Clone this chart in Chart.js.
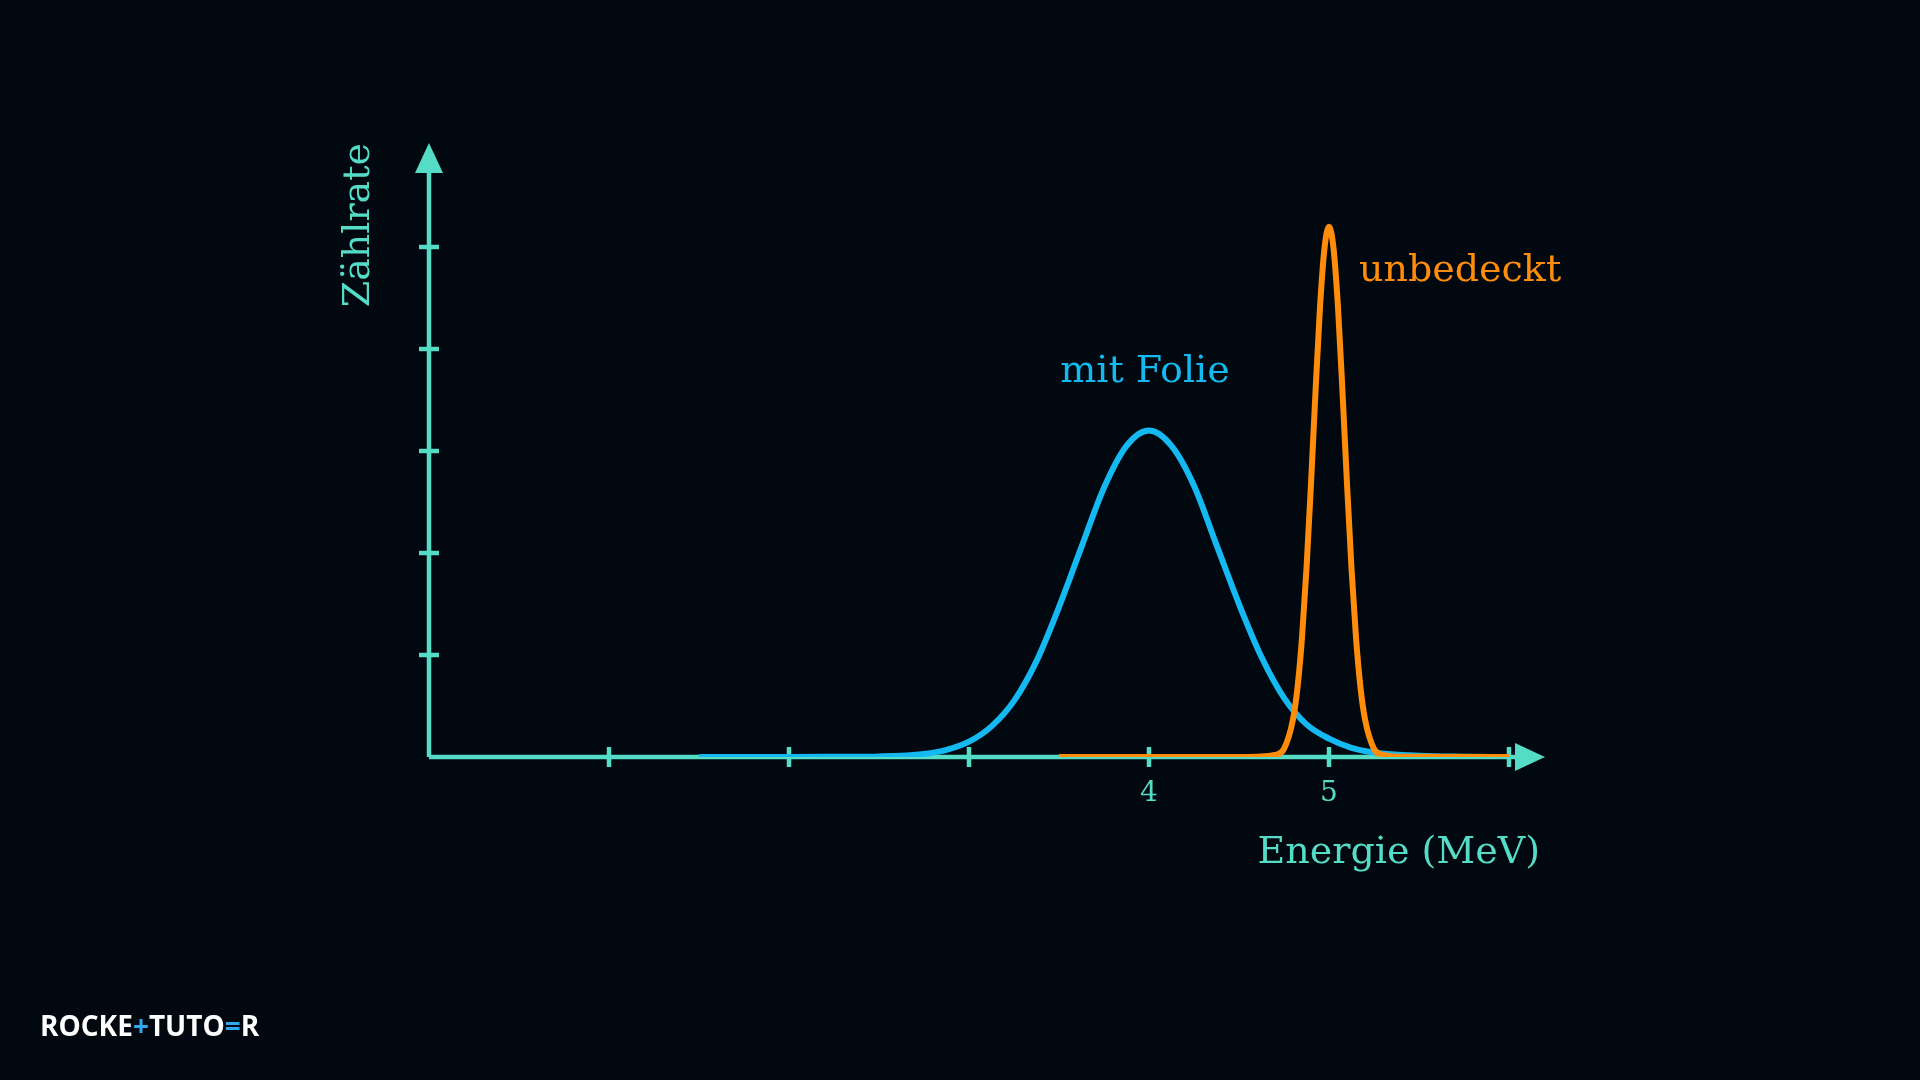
<!DOCTYPE html>
<html>
<head>
<meta charset="utf-8">
<script src="https://cdn.jsdelivr.net/npm/chart.js@4"></script>
<style>
  html, body { margin: 0; padding: 0; background: #02080f; }
  canvas { display: block; }
</style>
</head>
<body>
<canvas id="c" width="1920" height="1080"></canvas>
<script>
// Daten: Energie (MeV) und Zählrate
const folieX = [1.5, 2, 2.25, 2.5, 2.75, 2.875, 3, 3.125, 3.25, 3.375, 3.5, 3.625, 3.75, 3.875, 4, 4.125, 4.25, 4.375, 4.5, 4.625, 4.75, 4.875, 5, 5.125, 5.25, 5.5, 5.75, 6];
const folieY = [0, 0, 0.002, 0.006, 0.03, 0.07, 0.15, 0.3, 0.55, 0.94, 1.47, 2.06, 2.64, 3.05, 3.2, 3.05, 2.66, 2.08, 1.5, 0.98, 0.58, 0.32, 0.18, 0.09, 0.045, 0.012, 0.003, 0];
const unbedecktX = [3.5, 4.5, 4.6, 4.7, 4.75, 4.8, 4.825, 4.85, 4.875, 4.9, 4.925, 4.95, 4.975, 5, 5.025, 5.05, 5.075, 5.1, 5.125, 5.15, 5.175, 5.2, 5.25, 5.3, 5.4, 6];
const unbedecktY = [0, 0, 0.003, 0.02, 0.08, 0.37, 0.68, 1.17, 1.85, 2.68, 3.58, 4.41, 4.99, 5.2, 4.99, 4.41, 3.58, 2.68, 1.85, 1.17, 0.68, 0.37, 0.08, 0.02, 0.003, 0];
const xTicks = [1, 2, 3, 4, 5, 6];
const xTickLabels = { 4: '4', 5: '5' };
const yTicks = [1, 2, 3, 4, 5];

const AXIS = '#55dcc6';
const BLUE = '#14b9f2';
const ORANGE = '#ff8c0a';
const SERIF = '"DejaVu Serif", "Liberation Serif", serif';

const toPts = (xs, ys) => xs.map((x, i) => ({ x: x, y: ys[i] }));

// Achsen, Pfeile und Beschriftungen
const axesPlugin = {
    id: 'axesPlugin',
    beforeDatasetsDraw(chart) {
        const ctx = chart.ctx;
        const xs = chart.scales.x, ys = chart.scales.y;
        const x0 = xs.getPixelForValue(0), y0 = ys.getPixelForValue(0);
        const xEnd = xs.right, yEnd = ys.top;
        ctx.save();
        ctx.strokeStyle = AXIS;
        ctx.fillStyle = AXIS;
        ctx.lineWidth = 4.5;
        ctx.beginPath();
        ctx.moveTo(x0, y0); ctx.lineTo(xEnd - 20, y0);
        ctx.moveTo(x0, y0); ctx.lineTo(x0, yEnd + 20);
        ctx.stroke();
        // Pfeilspitzen
        ctx.beginPath();
        ctx.moveTo(xEnd, y0); ctx.lineTo(xEnd - 30, y0 - 14); ctx.lineTo(xEnd - 30, y0 + 14); ctx.closePath();
        ctx.fill();
        ctx.beginPath();
        ctx.moveTo(x0, yEnd); ctx.lineTo(x0 - 14, yEnd + 30); ctx.lineTo(x0 + 14, yEnd + 30); ctx.closePath();
        ctx.fill();
        // Striche
        ctx.beginPath();
        xTicks.forEach(t => {
            const px = xs.getPixelForValue(t);
            ctx.moveTo(px, y0 - 10); ctx.lineTo(px, y0 + 10);
        });
        yTicks.forEach(t => {
            const py = ys.getPixelForValue(t);
            ctx.moveTo(x0 - 10, py); ctx.lineTo(x0 + 10, py);
        });
        ctx.stroke();
        ctx.font = '28px ' + SERIF;
        ctx.textAlign = 'center';
        ctx.textBaseline = 'middle';
        Object.keys(xTickLabels).forEach(k => {
            ctx.fillText(xTickLabels[k], xs.getPixelForValue(+k), y0 + 37);
        });
        ctx.font = '38px ' + SERIF;
        ctx.textAlign = 'right';
        ctx.fillText('Energie (MeV)', xEnd - 5, 853);
        ctx.save();
        ctx.translate(359, yEnd);
        ctx.rotate(-Math.PI / 2);
        ctx.textAlign = 'right';
        ctx.fillText('Zählrate', 0, 0);
        ctx.restore();
        ctx.restore();
    },
    afterDatasetsDraw(chart) {
        const ctx = chart.ctx;
        ctx.save();
        ctx.font = '38px ' + SERIF;
        ctx.textBaseline = 'middle';
        ctx.fillStyle = BLUE;
        ctx.textAlign = 'center';
        ctx.fillText('mit Folie', 1145, 372);
        ctx.fillStyle = ORANGE;
        ctx.textAlign = 'left';
        ctx.fillText('unbedeckt', 1359, 271);
        // Logo
        ctx.font = 'bold 28px "Open Sans", sans-serif';
        ctx.textAlign = 'left';
        let lx = 40;
        [['ROCKE', '#ffffff'], ['+', '#2fa8ef'], ['TUTO', '#ffffff'], ['=', '#2fa8ef'], ['R', '#ffffff']].forEach(p => {
            ctx.fillStyle = p[1];
            ctx.fillText(p[0], lx, 1028);
            lx += ctx.measureText(p[0]).width;
        });
        ctx.restore();
    }
};

new Chart(document.getElementById('c'), {
    type: 'line',
    data: {
        datasets: [
            {
                label: 'unbedeckt',
                data: toPts(unbedecktX, unbedecktY),
                borderColor: ORANGE,
                borderWidth: 6,
                pointRadius: 0,
                cubicInterpolationMode: 'monotone'
            },
            {
                label: 'mit Folie',
                data: toPts(folieX, folieY),
                borderColor: BLUE,
                borderWidth: 6,
                pointRadius: 0,
                cubicInterpolationMode: 'monotone'
            }
        ]
    },
    options: {
        responsive: false,
        animation: false,
        layout: { padding: { left: 429, right: 375, top: 143, bottom: 323 } },
        scales: {
            x: { type: 'linear', min: 0, max: 6.2, display: false },
            y: { type: 'linear', min: 0, max: 6.02, display: false }
        },
        plugins: { legend: { display: false }, tooltip: { enabled: false } }
    },
    plugins: [axesPlugin]
});
</script>
</body>
</html>
